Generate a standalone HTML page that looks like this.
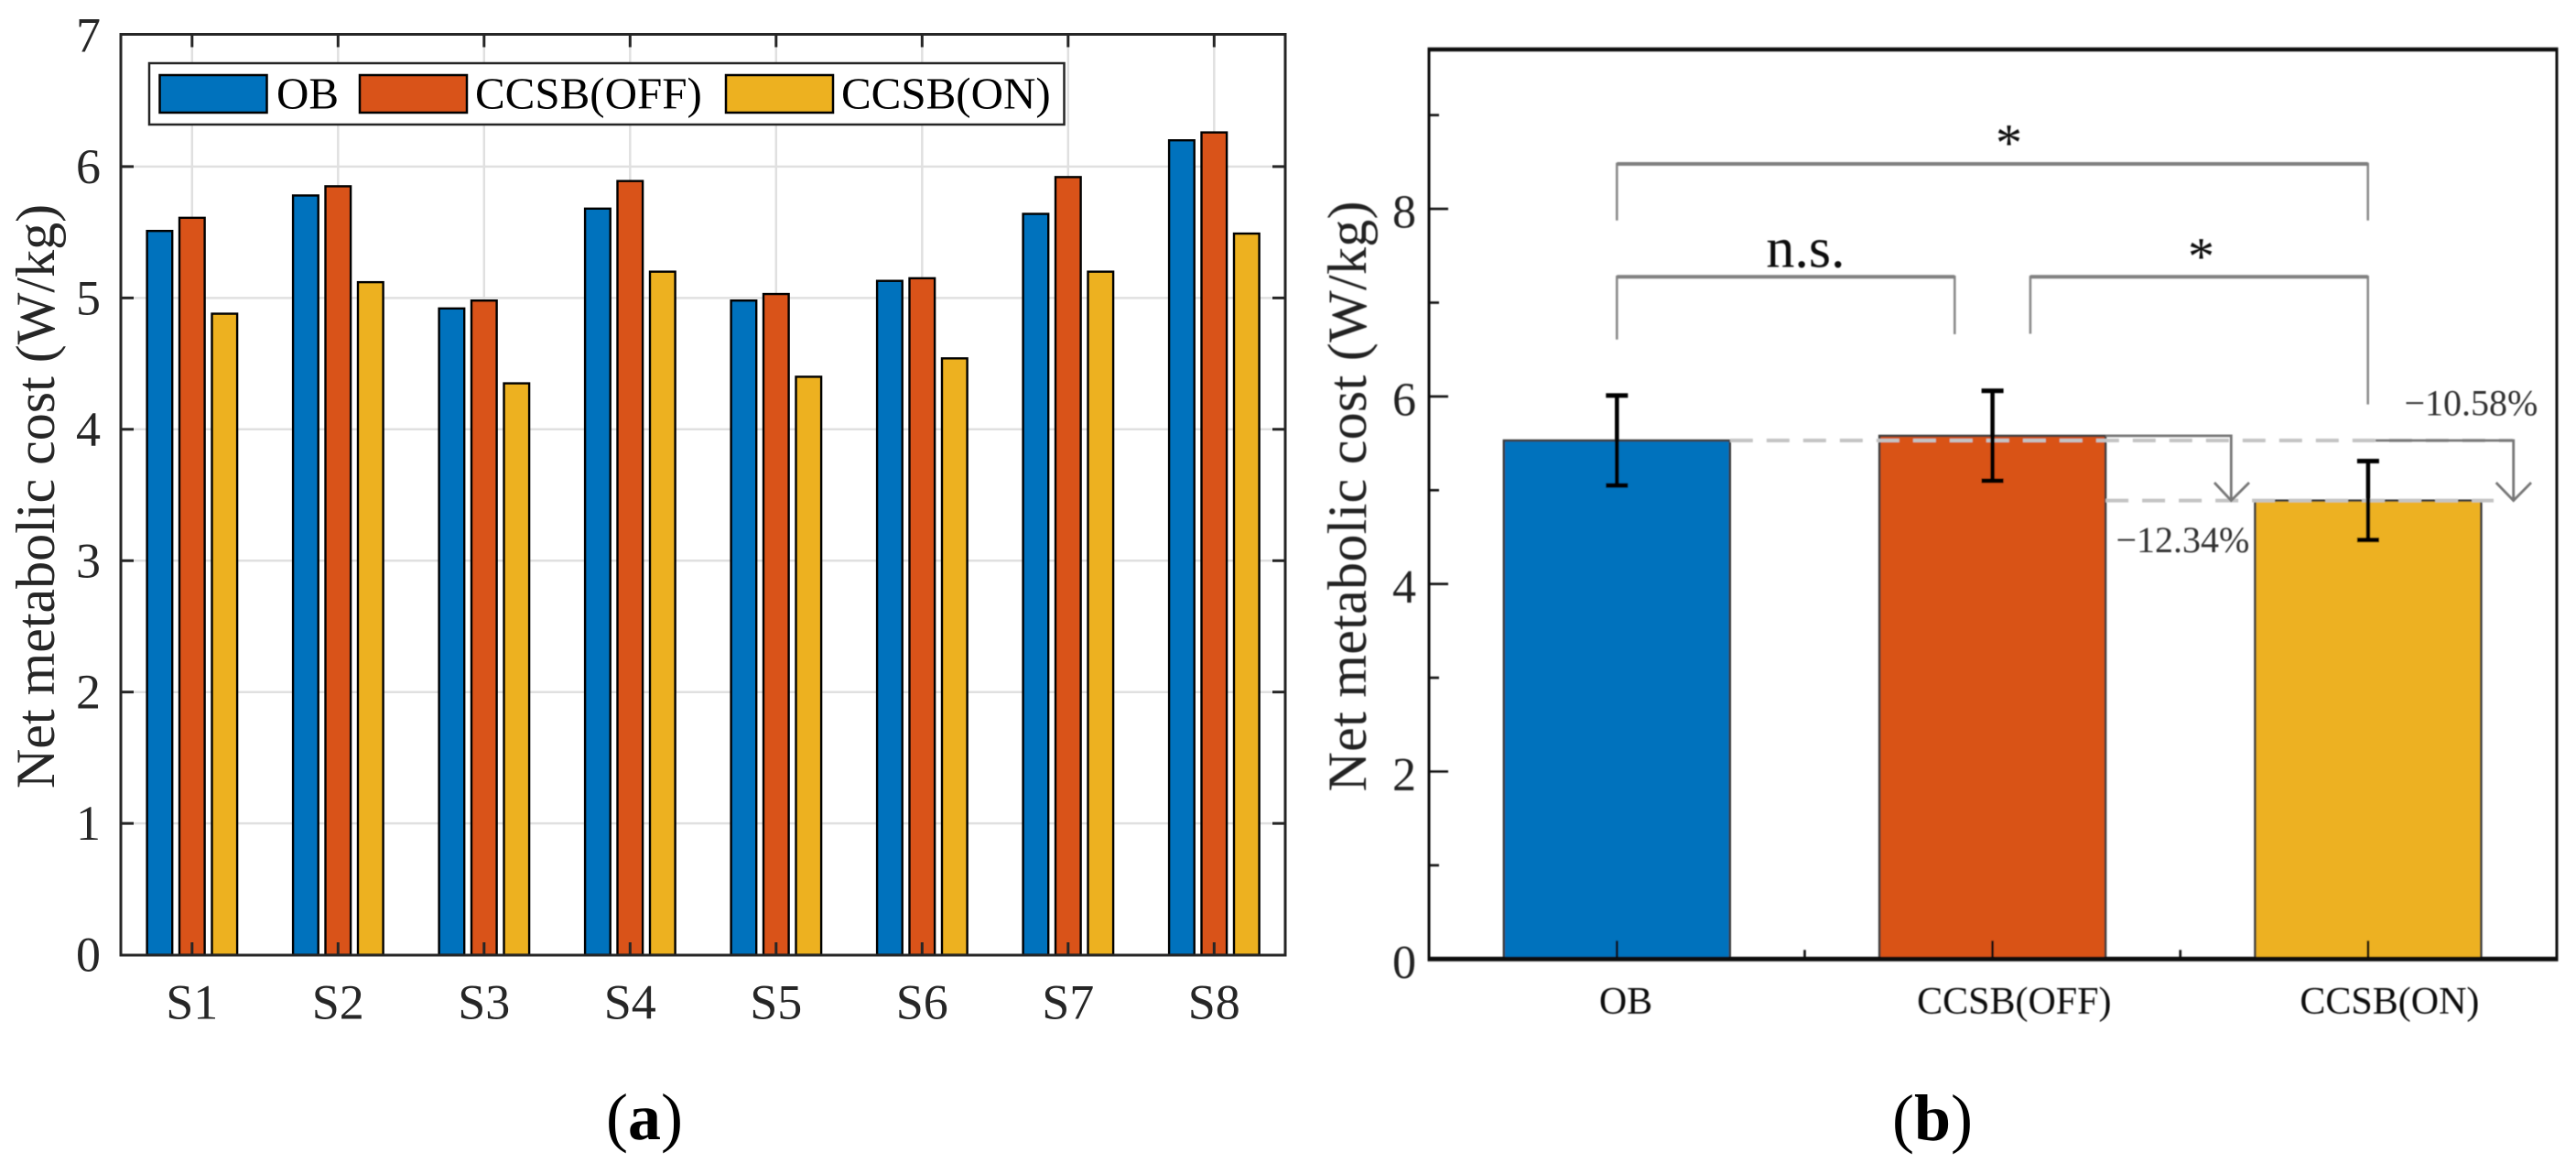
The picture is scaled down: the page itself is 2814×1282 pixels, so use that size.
<!DOCTYPE html>
<html lang="en">
<head>
<meta charset="utf-8">
<title>Net metabolic cost charts</title>
<style>
html,body{margin:0;padding:0;background:#fff;width:2814px;height:1282px;overflow:hidden}
svg{display:block}
text{font-family:"Liberation Serif",serif}
</style>
</head>
<body>
<svg id="figure" xmlns="http://www.w3.org/2000/svg" width="2814" height="1282" viewBox="0 0 2814 1282">
<defs><filter id="soft" filterUnits="userSpaceOnUse" x="0" y="0" width="2814" height="1282"><feGaussianBlur stdDeviation="0.65"/></filter></defs>
<rect x="0" y="0" width="2814" height="1282" fill="#fff"/>
<g id="panelA"></g>
<g id="panelB" filter="url(#soft)"></g>
<text x="704" y="1244" text-anchor="middle" font-size="72" fill="#000">(<tspan font-weight="bold">a</tspan>)</text>
<text x="2111" y="1245" text-anchor="middle" font-size="72" fill="#000">(<tspan font-weight="bold">b</tspan>)</text>
</svg>
<script>
// Panel (a) data
const subjects = ['S1','S2','S3','S4','S5','S6','S7','S8'];
const seriesOB = [5.51,5.78,4.92,5.68,4.98,5.13,5.64,6.20];
const seriesOff = [5.61,5.85,4.98,5.89,5.03,5.15,5.92,6.26];
const seriesOn = [4.88,5.12,4.35,5.20,4.40,4.54,5.20,5.49];
const yTicksA = [0,1,2,3,4,5,6,7];

// Panel (b) data
const conditions = ['OB','CCSB(OFF)','CCSB(ON)'];
const means = [5.53,5.58,4.89];
const errorHigh = [6.01,6.06,5.31];
const errorLow = [5.05,5.10,4.47];
const yTicksB = [0,2,4,6,8];
const yMinorTicksB = [1,3,5,7,9];
const reductionLabels = ['\u221212.34%','\u221210.58%'];

const BLUE = '#0072BD', ORANGE = '#D95319', YELLOW = '#EDB120', INK = '#262626';
const NS = 'http://www.w3.org/2000/svg';
function mk(tag, attrs, parent){
  const n = document.createElementNS(NS, tag);
  for (const k in attrs) n.setAttribute(k, attrs[k]);
  parent.appendChild(n);
  return n;
}
function line(x1,y1,x2,y2,stroke,w,parent){
  return mk('line',{x1,y1,x2,y2,stroke,'stroke-width':w},parent);
}

/* ---------- Panel A ---------- */
const A = document.getElementById('panelA');
const aL = 132, aR = 1404, aT = 37.5, aB = 1043;
const xA = i => 209.8 + i * 159.5;
const yA = v => 1042.6 - v * 143.45;
const offsetsA = [-35.4, 0, 35.5];
const seriesA = [seriesOB, seriesOff, seriesOn];
const coloursA = [BLUE, ORANGE, YELLOW];

yTicksA.slice(1,7).forEach(v => {
  const g = line(aL, yA(v), aR, yA(v), '#e0e0e0', 2.5, A);
  
  
});
subjects.forEach((s,i) => {
  const g = line(xA(i), aT, xA(i), aB, '#e0e0e0', 2.5, A);
  
  
});
seriesA.forEach((vals,k) => {
  vals.forEach((v,i) => {
    const cx = xA(i) + offsetsA[k];
    const r = mk('rect',{x:cx-13.8,y:yA(v),width:27.6,height:yA(0)-yA(v),fill:coloursA[k],stroke:'#000','stroke-width':2.4},A);
    
    
  });
});
const frameA = mk('rect',{x:aL,y:aT,width:aR-aL,height:aB-aT,fill:'none',stroke:INK,'stroke-width':3},A);



yTicksA.forEach(v => {
  if (v > 0 && v < 7) {
    const t1 = line(aL, yA(v), aL+14, yA(v), INK, 3, A);
    
    
    const t2 = line(aR-14, yA(v), aR, yA(v), INK, 3, A);
    
    
  }
  const t = mk('text',{x:110,y:yA(v)+18,'text-anchor':'end','font-size':54,fill:INK},A);
  t.textContent = v;
  
  
});
subjects.forEach((s,i) => {
  const t1 = line(xA(i), aT, xA(i), aT+14, INK, 3, A);
  
  
  const t2 = line(xA(i), aB-14, xA(i), aB, INK, 3, A);
  
  
  const t = mk('text',{x:xA(i),y:1112.5,'text-anchor':'middle','font-size':54,fill:INK},A);
  t.textContent = s;
  
  
});
const titleA = mk('text',{transform:'translate(59 542) rotate(-90)','text-anchor':'middle','font-size':60,fill:INK},A);
titleA.textContent = 'Net metabolic cost (W/kg)';



const legendBox = mk('rect',{x:163,y:69,width:999.5,height:67,fill:'#fff',stroke:INK,'stroke-width':2.5},A);


const legendNames = ['OB','CCSB(OFF)','CCSB(ON)'];
const legendSwatchX = [174.5, 393, 793];
const legendTextX = [302, 519, 919];
legendNames.forEach((n,k) => {
  const s = mk('rect',{x:legendSwatchX[k],y:82,width:117,height:41,fill:coloursA[k],stroke:'#000','stroke-width':2.5},A);
  
  
  const t = mk('text',{x:legendTextX[k],y:118.5,'font-size':49,fill:'#000'},A);
  t.textContent = n;
  
  
});

/* ---------- Panel B ---------- */
const B = document.getElementById('panelB');
const bL = 1561, bR = 2793, bT = 54, bB = 1047.3;
const xB = i => 1766.3 + i * 410.3;
const yB = v => bB - v * 102.4;
const halfW = 123.5;
const coloursB = [BLUE, ORANGE, YELLOW];

means.forEach((v,i) => {
  const r = mk('rect',{x:xB(i)-halfW,y:yB(v),width:halfW*2,height:yB(0)-yB(v),fill:coloursB[i],stroke:'#3a3a3a','stroke-width':2.4},B);
  
  
});

const dash1 = line(xB(0)+halfW, yB(means[0]), 2745, yB(means[0]), '#c4c4c4', 4, B);
dash1.setAttribute('stroke-dasharray', '25 15');


const dash2 = line(xB(1)+halfW, yB(means[2]), 2724, yB(means[2]), '#c4c4c4', 4, B);
dash2.setAttribute('stroke-dasharray', '25 15');



function arrowPath(points, name){
  const p = mk('path',{d:points,fill:'none',stroke:'#777','stroke-width':2.8},B);
  
  
}
arrowPath('M'+(xB(1)+halfW)+' '+yB(means[1])+' H2437.3 V'+yB(means[2])+' M2419 527 L2437.3 '+yB(means[2])+' L2457 527','reduction-arrow-off');
arrowPath('M2595 '+yB(means[0])+' H2745.7 V'+yB(means[2])+' M2726.7 527 L2745.7 '+yB(means[2])+' L2765 527','reduction-arrow-ob');

function bracket(x1,y1,yTop,x2,y2,name){
  const v = mk('path',{d:'M'+x1+' '+y1+' V'+yTop+' H'+x2+' V'+y2,fill:'none',stroke:'#8a8a8a','stroke-width':2.6},B);
  
  
  const h = line(x1, yTop, x2, yTop, '#808080', 4, B);
  
  
}
bracket(1766.3,240.7,179,2586.7,240.7,'significance-bracket-ob-on');
bracket(1766.3,370.7,302.3,2135.3,365,'significance-bracket-ob-off');
bracket(2217.9,364.5,302.3,2586.7,441.6,'significance-bracket-off-on');

const star1 = mk('text',{x:2194.5,y:175.5,'text-anchor':'middle','font-size':58,fill:'#111'},B);
star1.textContent = '*';


const star2 = mk('text',{x:2404.5,y:299.5,'text-anchor':'middle','font-size':58,fill:'#111'},B);
star2.textContent = '*';


const nsLabel = mk('text',{x:1972.5,y:291.5,'text-anchor':'middle','font-size':62,fill:'#111'},B);
nsLabel.textContent = 'n.s.';



const red1 = mk('text',{x:2311.5,y:603,'font-size':40,fill:'#333'},B);
red1.textContent = reductionLabels[0];


const red2 = mk('text',{x:2626.5,y:453.3,'font-size':40,fill:'#333'},B);
red2.textContent = reductionLabels[1];



conditions.forEach((c,i) => {
  const x = xB(i);
  const stem = line(x, yB(errorHigh[i]), x, yB(errorLow[i]), '#000', 4.5, B);
  
  
  const capT = line(x-12, yB(errorHigh[i]), x+12, yB(errorHigh[i]), '#000', 5, B);
  
  
  const capB = line(x-12, yB(errorLow[i]), x+12, yB(errorLow[i]), '#000', 5, B);
  
  
});

const leftS = line(bL, bT, bL, bB, '#111', 3, B);


const rightS = line(bR, bT, bR, bB, '#111', 3, B);


const topS = line(bL-1.5, bT, bR+1.5, bT, '#111', 4.5, B);


const botS = line(bL-1.5, bB, bR+1.5, bB, '#111', 5, B);



yTicksB.forEach(v => {
  if (v > 0) {
    const t0 = line(bL, yB(v), bL+21, yB(v), '#111', 2.6, B);
    
    
  }
  const t = mk('text',{x:1547,y:yB(v)+20.5,'text-anchor':'end','font-size':52,fill:'#222'},B);
  t.textContent = v;
  
  
});
yMinorTicksB.forEach(v => {
  const t = line(bL, yB(v), bL+11, yB(v), '#111', 2.6, B);
  
  
});
conditions.forEach((c,i) => {
  const t = line(xB(i), bB-20, xB(i), bB, '#111', 2.6, B);
  
  
  if (i < conditions.length - 1) {
    const m = line(xB(i+0.5), bB-10, xB(i+0.5), bB, '#111', 2.6, B);
    
    
  }
  const lab = mk('text',{x:xB(i)+(i===0?9.7:i===1?23.7:23.5),y:1107,'text-anchor':'middle','font-size':42,fill:'#111'},B);
  lab.textContent = c;
  
  
});
const titleB = mk('text',{transform:'translate(1492 542) rotate(-90)','text-anchor':'middle','font-size':60,fill:'#222',textLength:645,lengthAdjust:'spacing'},B);
titleB.textContent = 'Net metabolic cost (W/kg)';


</script>
</body>
</html>
